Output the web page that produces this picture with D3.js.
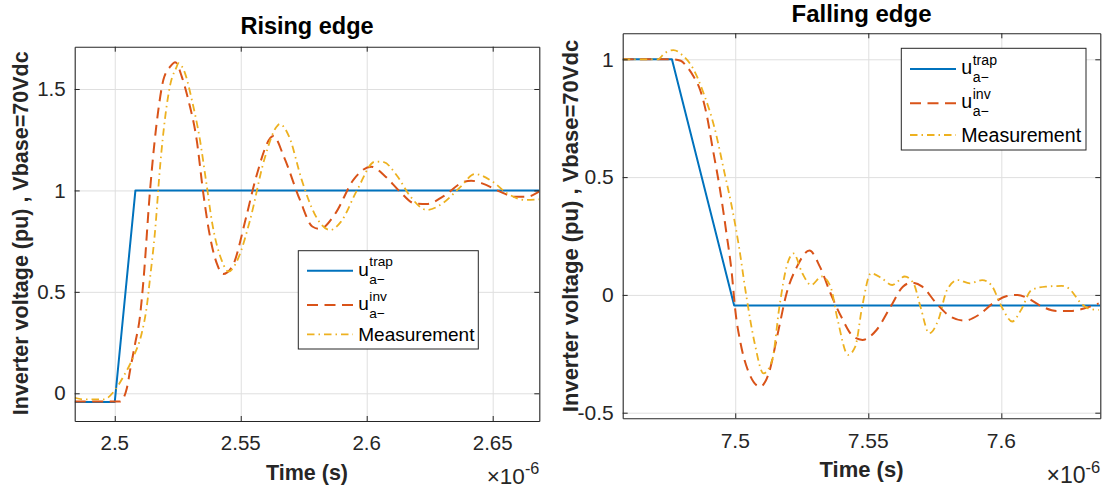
<!DOCTYPE html>
<html><head><meta charset="utf-8">
<script src="https://cdn.jsdelivr.net/npm/d3@7"></script>
<style>
html,body{margin:0;padding:0;background:#fff;}
svg{display:block;}
text{font-family:"Liberation Sans",Arial,Helvetica,sans-serif;}
</style></head>
<body>
<svg id="chart" width="1107" height="490"></svg>
<script>
// ---------------- DATA (time in units of 1e-6 s, voltage in pu) ----------------
const seriesNames = ["trap", "inv", "Measurement"];

const risingTrap = [[2.4841,-0.043],[2.5,-0.043],[2.5082,1],[2.6685,1]];
const risingInv = [[2.4841,-0.041],[2.5021,-0.041],[2.5048,0.025],[2.5061,0.115],[2.5081,0.246],[2.51,0.378],
  [2.5114,0.558],[2.514,1.0],[2.5173,1.397],[2.5193,1.545],[2.522,1.61],[2.524,1.632],[2.5266,1.561],[2.5292,1.446],
  [2.5325,1.25],[2.5352,0.98],[2.538,0.76],[2.5405,0.64],[2.543,0.588],[2.5466,0.624],[2.5522,0.871],[2.5558,1.052],
  [2.563,1.268],[2.5671,1.167],[2.5735,0.953],[2.5784,0.822],[2.5813,0.81],[2.5876,0.887],[2.5947,1.052],[2.6018,1.117],
  [2.6075,1.068],[2.6132,0.994],[2.6188,0.937],[2.6238,0.933],[2.6302,0.969],[2.6387,1.043],[2.6415,1.048],[2.6458,1.035],
  [2.6529,0.994],[2.6585,0.969],[2.6635,0.969],[2.6684,0.994]];
const risingMeas = [[2.4841,-0.022],[2.4875,-0.03],[2.4956,-0.03],[2.5001,0.016],[2.5034,0.082],[2.5074,0.18],[2.5107,0.296],
  [2.5127,0.427],[2.514,0.567],[2.516,0.80],[2.518,1.12],[2.52,1.36],[2.522,1.52],[2.5246,1.61],[2.5252,1.627],[2.5279,1.577],
  [2.5306,1.446],[2.5338,1.25],[2.5362,1.05],[2.5388,0.83],[2.5423,0.66],[2.5452,0.60],[2.5487,0.657],[2.5537,0.854],
  [2.5593,1.15],[2.5643,1.315],[2.5655,1.327],[2.5692,1.265],[2.5742,1.052],[2.5792,0.887],[2.5856,0.805],[2.5898,0.846],
  [2.5962,1.002],[2.6033,1.142],[2.6068,1.139],[2.6118,1.076],[2.6174,0.969],[2.6238,0.904],[2.6302,0.937],[2.6373,1.019],
  [2.6429,1.081],[2.65,1.043],[2.6557,0.986],[2.6628,0.953],[2.6684,0.956]];

const fallingTrap = [[7.4577,1],[7.4762,1],[7.4996,-0.045],[7.6372,-0.045]];
const fallingInv = [[7.4577,1],[7.4768,1],[7.4795,0.994],[7.4818,0.969],[7.4844,0.926],[7.4868,0.87],[7.4894,0.757],
  [7.4914,0.629],[7.4941,0.459],[7.4967,0.261],[7.4987,0.092],[7.5,-0.064],[7.502,-0.205],[7.5047,-0.318],[7.5093,-0.389],
  [7.5126,-0.333],[7.516,-0.163],[7.5193,0.007],[7.5232,0.12],[7.5279,0.188],[7.5318,0.12],[7.5358,0.007],[7.5398,-0.092],
  [7.5444,-0.177],[7.5478,-0.191],[7.5531,-0.149],[7.5584,-0.05],[7.563,0.035],[7.5663,0.052],[7.5703,0.035],[7.5756,-0.036],
  [7.5809,-0.092],[7.5862,-0.109],[7.5915,-0.085],[7.5968,-0.036],[7.6021,-0.005],[7.6061,0],[7.6101,-0.015],[7.6154,-0.05],
  [7.6207,-0.068],[7.626,-0.068],[7.6313,-0.057],[7.6366,-0.036]];
const fallingMeas = [[7.4577,1],[7.4709,1],[7.4735,1.026],[7.4768,1.039],[7.4801,1.018],[7.4841,0.962],[7.4881,0.856],
  [7.4921,0.714],[7.496,0.516],[7.4987,0.375],[7.5014,0.205],[7.504,0.007],[7.5073,-0.205],[7.5106,-0.333],[7.5139,-0.276],
  [7.5166,-0.05],[7.5193,0.12],[7.5219,0.176],[7.5252,0.092],[7.5285,0.042],[7.5325,0.078],[7.5358,0.035],[7.5385,-0.107],
  [7.5424,-0.255],[7.5451,-0.22],[7.5477,-0.05],[7.551,0.092],[7.555,0.071],[7.559,0.042],[7.5637,0.078],[7.567,0.049],
  [7.5696,-0.05],[7.5729,-0.163],[7.5763,-0.107],[7.5796,0.021],[7.5836,0.063],[7.5882,0.049],[7.5928,0.063],[7.5962,0.042],
  [7.6001,-0.05],[7.6041,-0.113],[7.6074,-0.064],[7.6114,0.021],[7.6167,0.035],[7.6227,0.038],[7.6253,0.028],[7.63,-0.036],
  [7.6326,-0.057],[7.6366,-0.064]];

const risingXTicks = [2.5, 2.55, 2.6, 2.65];
const risingXTickLabels = ["2.5", "2.55", "2.6", "2.65"];
const risingYTicks = [0, 0.5, 1, 1.5];
const risingYTickLabels = ["0", "0.5", "1", "1.5"];
const fallingXTicks = [7.5, 7.55, 7.6];
const fallingXTickLabels = ["7.5", "7.55", "7.6"];
const fallingYTicks = [-0.5, 0, 0.5, 1];
const fallingYTickLabels = ["-0.5", "0", "0.5", "1"];

const titles = ["Rising edge", "Falling edge"];
const xLabel = "Time (s)";
const yLabel = "Inverter voltage (pu) , Vbase=70Vdc";

// ---------------- LAYOUT / STYLE ----------------
const colors = ["#0072BD", "#D95319", "#EDB120"];
const dashes = [null, "11,6.5", "7.5,4,1.5,4"];
const widths = [2, 2, 1.8];

const panels = [
  {title: titles[0], series: [risingTrap, risingInv, risingMeas],
   left: 74.7, right: 539.3, top: 46.7, bottom: 421,
   xDomain: [2.4841, 2.6685], yDomain: [-0.1366, 1.7085],
   xTicks: risingXTicks, xTickLabels: risingXTickLabels, yTicks: risingYTicks, yTickLabels: risingYTickLabels,
   titleY: 33.5, titleSize: 23.5, tickSize: 20.5, xTickY: 450, labelSize: 21.5, xLabelY: 480,
   yLabelX: 28, yLabelY: 233.3, expY: 484, legend: {x: 298.3, y: 250.7, w: 180, h: 98.3, rows: [20, 54.3, 83.6], fs: 19}},
  {title: titles[1], series: [fallingTrap, fallingInv, fallingMeas],
   left: 622.7, right: 1100.3, top: 33.3, bottom: 418.3,
   xDomain: [7.4577, 7.6372], yDomain: [-0.5238, 1.1104],
   xTicks: fallingXTicks, xTickLabels: fallingXTickLabels, yTicks: fallingYTicks, yTickLabels: fallingYTickLabels,
   titleY: 22.3, titleSize: 24, tickSize: 21, xTickY: 448.3, labelSize: 22, xLabelY: 477,
   yLabelX: 578, yLabelY: 226, expY: 483.3, legend: {x: 901.3, y: 48.3, w: 184.7, h: 101.7, rows: [20.7, 55, 86.7], fs: 19.6}}
];

const svg = d3.select("#chart");

panels.forEach((p, pi) => {
  const x = d3.scaleLinear().domain(p.xDomain).range([p.left, p.right]);
  const y = d3.scaleLinear().domain(p.yDomain).range([p.bottom, p.top]);
  const g = svg.append("g");
  const W = p.right - p.left, H = p.bottom - p.top;

  // grid
  g.append("g").attr("transform", `translate(0,${p.bottom})`)
    .call(d3.axisBottom(x).tickValues(p.xTicks).tickSize(-H).tickFormat(""))
    .call(s => { s.select(".domain").remove(); s.selectAll("line").attr("stroke", "#dfdfdf").attr("stroke-width", 1); });
  g.append("g").attr("transform", `translate(${p.left},0)`)
    .call(d3.axisLeft(y).tickValues(p.yTicks).tickSize(-W).tickFormat(""))
    .call(s => { s.select(".domain").remove(); s.selectAll("line").attr("stroke", "#dfdfdf").attr("stroke-width", 1); });

  // lines
  const clipId = "clip" + pi;
  svg.append("defs").append("clipPath").attr("id", clipId)
    .append("rect").attr("x", p.left).attr("y", p.top).attr("width", W).attr("height", H);
  const lineLin = d3.line().x(d => x(d[0])).y(d => y(d[1]));
  const lineSmooth = d3.line().x(d => x(d[0])).y(d => y(d[1])).curve(d3.curveMonotoneX);
  const lg = g.append("g").attr("clip-path", `url(#${clipId})`);
  p.series.forEach((data, i) => {
    lg.append("path").datum(data)
      .attr("d", i === 0 ? lineLin : lineSmooth)
      .attr("fill", "none").attr("stroke", colors[i]).attr("stroke-width", widths[i])
      .attr("stroke-dasharray", dashes[i]).attr("stroke-linejoin", "round");
  });

  // axes with inward ticks on all sides
  const tl = 5;
  const axCol = "#262626";
  const styleAxis = s => { s.select(".domain").attr("stroke", axCol).attr("stroke-width", 1.1);
    s.selectAll(".tick line").attr("stroke", axCol).attr("stroke-width", 1); s.selectAll("text").remove(); };
  g.append("g").attr("transform", `translate(0,${p.bottom})`)
    .call(d3.axisBottom(x).tickValues(p.xTicks).tickSizeInner(-tl).tickSizeOuter(0)).call(styleAxis);
  g.append("g").attr("transform", `translate(0,${p.top})`)
    .call(d3.axisTop(x).tickValues(p.xTicks).tickSizeInner(-tl).tickSizeOuter(0)).call(styleAxis);
  g.append("g").attr("transform", `translate(${p.left},0)`)
    .call(d3.axisLeft(y).tickValues(p.yTicks).tickSizeInner(-tl).tickSizeOuter(0)).call(styleAxis);
  g.append("g").attr("transform", `translate(${p.right},0)`)
    .call(d3.axisRight(y).tickValues(p.yTicks).tickSizeInner(-tl).tickSizeOuter(0)).call(styleAxis);

  // tick labels
  p.xTicks.forEach((t, i) => {
    g.append("text").attr("x", x(t)).attr("y", p.xTickY).attr("text-anchor", "middle")
      .attr("font-size", p.tickSize).attr("fill", "#262626").text(p.xTickLabels[i]);
  });
  p.yTicks.forEach((t, i) => {
    g.append("text").attr("x", p.left - 9).attr("y", y(t)).attr("dy", "0.35em").attr("text-anchor", "end")
      .attr("font-size", p.tickSize).attr("fill", "#262626").text(p.yTickLabels[i]);
  });

  // exponent
  const ex = g.append("text").attr("x", p.right).attr("y", p.expY).attr("text-anchor", "end")
    .attr("font-size", p.tickSize + 2).attr("fill", "#262626");
  ex.append("tspan").text("×10");
  ex.append("tspan").attr("font-size", (p.tickSize + 2) * 0.72).attr("dy", -10.5).text("-6");

  // title & labels
  g.append("text").attr("x", (p.left + p.right) / 2).attr("y", p.titleY).attr("text-anchor", "middle")
    .attr("font-size", p.titleSize).attr("font-weight", "bold").attr("fill", "#000").text(p.title);
  g.append("text").attr("x", (p.left + p.right) / 2).attr("y", p.xLabelY).attr("text-anchor", "middle")
    .attr("font-size", p.labelSize).attr("font-weight", "bold").attr("fill", "#262626").text(xLabel);
  g.append("text").attr("transform", `translate(${p.yLabelX},${p.yLabelY}) rotate(-90)`).attr("text-anchor", "middle")
    .attr("font-size", p.labelSize).attr("font-weight", "bold").attr("fill", "#262626").text(yLabel);

  // legend
  const L = p.legend;
  const leg = g.append("g");
  leg.append("rect").attr("x", L.x).attr("y", L.y).attr("width", L.w).attr("height", L.h)
    .attr("fill", "#fff").attr("stroke", "#262626").attr("stroke-width", 1);
  seriesNames.forEach((name, i) => {
    const ry = L.y + L.rows[i];
    leg.append("line").attr("x1", L.x + 8.7).attr("x2", L.x + 54.7).attr("y1", ry).attr("y2", ry)
      .attr("stroke", colors[i]).attr("stroke-width", widths[i]).attr("stroke-dasharray", dashes[i]);
    const tx = L.x + 60;
    if (i < 2) {
      leg.append("text").attr("x", tx).attr("y", ry + 5).attr("font-size", L.fs).attr("fill", "#000").text("u");
      leg.append("text").attr("x", tx + L.fs * 0.556 + 0.5).attr("y", ry - 4.5).attr("font-size", L.fs * 0.72).attr("fill", "#000").text(name);
      leg.append("text").attr("x", tx + L.fs * 0.556 + 0.5).attr("y", ry + 13).attr("font-size", L.fs * 0.72).attr("fill", "#000").text("a\u2212");
    } else {
      leg.append("text").attr("x", tx).attr("y", ry + 6.5).attr("font-size", L.fs).attr("fill", "#000").text(name);
    }
  });
});
</script>
</body></html>
